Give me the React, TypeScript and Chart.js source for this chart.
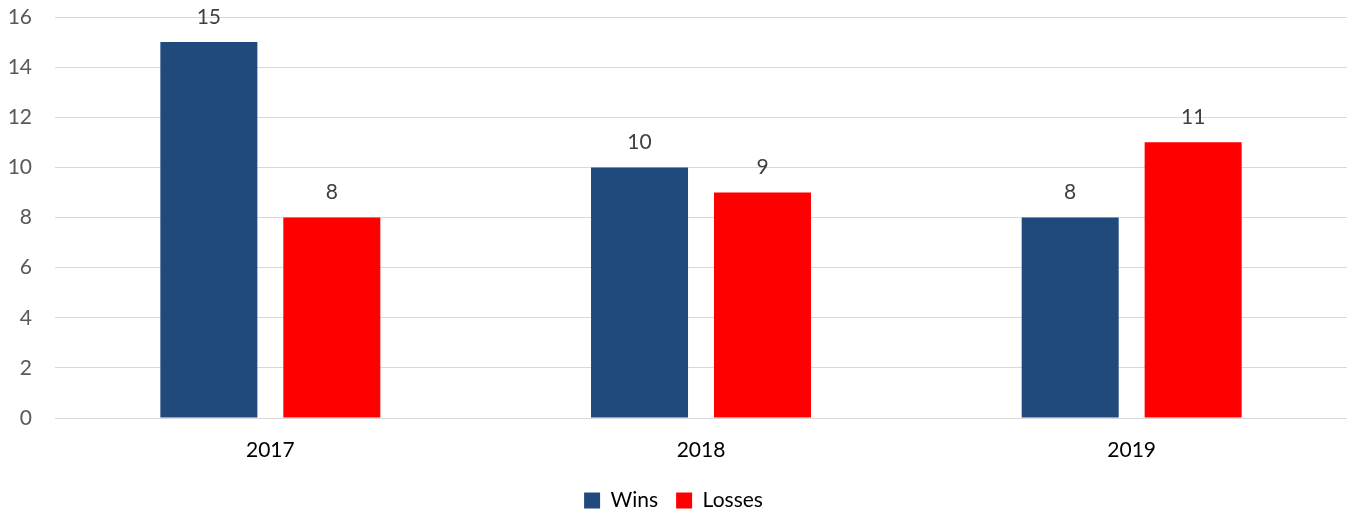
import React, { useEffect, useRef } from "react";
import { Chart, registerables } from "chart.js";

Chart.register(...registerables);

const categories = ["2017", "2018", "2019"];
const wins = [15, 10, 8];
const losses = [8, 9, 11];
const yMin = 0;
const yMax = 16;
const yStep = 2;

const FONT = "Lato, 'Open Sans', sans-serif";

const dataLabels = {
  id: "dataLabels",
  afterDatasetsDraw(chart: any) {
    const ctx = chart.ctx;
    ctx.save();
    ctx.font = `21px ${FONT}`;
    ctx.fillStyle = "#404040";
    ctx.textAlign = "center";
    ctx.textBaseline = "middle";
    chart.data.datasets.forEach((ds: any, i: number) => {
      const meta = chart.getDatasetMeta(i);
      meta.data.forEach((el: any, j: number) => {
        ctx.fillText(String(ds.data[j]), el.x, el.y - 25);
      });
    });
    ctx.restore();
  },
};

export default function App() {
  const ref = useRef<HTMLCanvasElement>(null);
  useEffect(() => {
    const chart = new Chart(ref.current!, {
      type: "bar",
      data: {
        labels: categories,
        datasets: [
          { label: "Wins", data: wins, backgroundColor: "#204A7C", categoryPercentage: 0.571, barPercentage: 0.789 },
          { label: "Losses", data: losses, backgroundColor: "#FF0000", categoryPercentage: 0.571, barPercentage: 0.789 },
        ],
      },
      options: {
        responsive: false,
        animation: false,
        layout: { padding: { top: 17, left: 0, right: 6, bottom: 0 } },
        plugins: {
          legend: {
            position: "bottom",
            labels: {
              font: { family: FONT, size: 21 },
              color: "#000000",
              boxWidth: 16,
              boxHeight: 16,
              padding: 18,
            },
          },
          tooltip: { enabled: false },
        },
        scales: {
          x: {
            afterFit(scale: any) {
              scale.height = 54;
              scale.paddingBottom = 0;
            },
            grid: { display: false, drawTicks: false },
            border: { display: false },
            ticks: { font: { family: FONT, size: 21 }, color: "#000000", padding: 20 },
          },
          y: {
            min: yMin,
            max: yMax,
            afterFit(scale: any) {
              scale.width = 55;
              scale.paddingTop = 0;
              scale.paddingBottom = 0;
            },
            grid: { color: "#d9d9d9", lineWidth: 1, drawTicks: false },
            border: { display: false },
            ticks: { stepSize: yStep, font: { family: FONT, size: 21 }, color: "#595959", padding: 23 },
          },
        },
      },
      plugins: [dataLabels],
    });
    return () => chart.destroy();
  }, []);
  return (
    <div style={{ position: "absolute", left: 0, top: 0, width: 1353, height: 516, overflow: "hidden" }}>
      <canvas ref={ref} width={1353} height={521} style={{ display: "block" }} />
    </div>
  );
}
